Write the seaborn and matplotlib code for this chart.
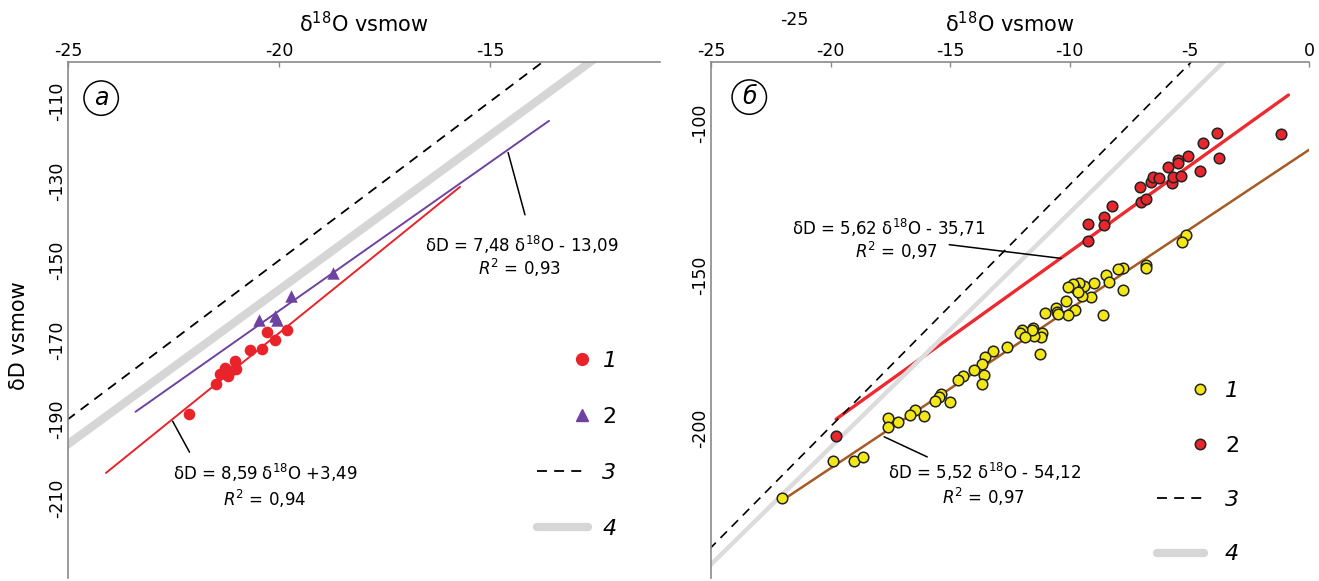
import numpy as np
import pandas as pd
import seaborn as sns
import matplotlib.pyplot as plt
from matplotlib.lines import Line2D
from matplotlib.legend_handler import HandlerLine2D

# ---- panel a: samples ----
a1_o18 = [-22.13, -21.50, -21.40, -21.28, -21.20, -21.16, -21.04, -21.02,
          -20.69, -20.41, -20.28, -20.09, -19.82]
a1_dD = [-188.6, -181.1, -178.6, -177.1, -179.2, -177.9, -175.4, -177.3,
         -172.6, -172.3, -168.0, -170.1, -167.6]
a2_o18 = [-20.47, -20.09, -20.05, -19.72, -18.71]
a2_dD = [-164.9, -164.1, -165.1, -159.0, -153.2]

# regression lines panel a: slope, intercept, x range
a_fit_slope = [8.59, 7.48]
a_fit_icpt = [3.49, -13.09]
a_fit_xmin = [-24.1, -23.4]
a_fit_xmax = [-15.71, -13.6]
a_gmwl = (8.0, 10.0)
a_lmwl = (7.78, -1.8)

# ---- panel b: samples ----
b1_o18 = [-5.15, -5.30, -6.80, -6.80, -7.79, -7.97, -7.79, -8.50, -8.35, -9.00,
          -8.60, -9.11, -9.41, -9.50, -9.62, -9.78, -9.85, -10.09, -9.64, -10.16,
          -9.78, -10.09, -10.59, -10.55, -10.48, -11.04, -11.17, -11.20, -11.50, -11.53,
          -11.59, -12.01, -12.08, -11.87, -11.25, -12.64, -13.20, -13.55, -13.68, -14.00,
          -13.57, -13.68, -14.48, -14.69, -15.40, -15.48, -15.64, -15.01, -16.10, -16.47,
          -16.68, -17.17, -17.59, -17.59, -19.89, -19.01, -18.63, -22.04]
b1_dD = [-136.7, -138.9, -146.6, -147.6, -147.4, -148.0, -154.8, -149.8, -152.0, -152.6,
         -162.9, -157.1, -153.4, -156.7, -152.6, -154.2, -152.8, -153.7, -155.3, -158.3,
         -161.3, -163.0, -160.8, -161.9, -162.6, -162.4, -169.0, -170.3, -169.8, -167.3,
         -167.9, -167.9, -169.0, -170.1, -175.7, -173.3, -174.7, -176.6, -179.0, -181.0,
         -182.6, -185.6, -183.0, -184.3, -188.9, -189.7, -191.1, -191.4, -196.1, -194.1,
         -195.7, -197.9, -196.8, -199.6, -210.7, -210.7, -209.6, -223.0]
b2_o18 = [-19.77, -9.25, -9.23, -8.57, -8.56, -8.24, -7.07, -7.04, -6.83, -6.62,
          -6.53, -6.26, -5.88, -5.74, -5.67, -5.46, -5.46, -5.36, -5.05, -4.56,
          -4.42, -3.83, -3.76, -1.18]
b2_dD = [-202.6, -138.6, -133.1, -130.9, -133.4, -127.1, -120.9, -125.8, -125.0, -119.2,
         -117.6, -118.1, -114.5, -119.8, -117.8, -112.1, -113.2, -117.3, -110.8, -115.7,
         -106.5, -103.2, -111.6, -103.6]

b_fit_slope = [5.22, 5.62]
b_fit_icpt = [-108.8, -86.0]
b_fit_xmin = [-22.0, -19.77]
b_fit_xmax = [0.0, -0.86]
b_gmwl = (7.93, -40.95)
b_lmwl = (7.69, -52.5)

a_eq = ['δD = 8,59 δ$^{18}$O +3,49', 'δD = 7,48 δ$^{18}$O - 13,09']
a_r2 = ['$R^{2}$ = 0,94', '$R^{2}$ = 0,93']
b_eq = ['δD = 5,52 δ$^{18}$O - 54,12', 'δD = 5,62 δ$^{18}$O - 35,71']
b_r2 = ['$R^{2}$ = 0,97', '$R^{2}$ = 0,97']
legend_labels = ['1', '2', '3', '4']

sns.set_theme(style='white')
plt.rcParams['font.family'] = ['DejaVu Sans']
plt.rcParams['mathtext.fontset'] = 'dejavusans'
plt.rcParams['axes.unicode_minus'] = False
plt.rcParams['text.color'] = 'black'
plt.rcParams['axes.labelcolor'] = 'black'

RED_A = '#e8232a'
PURPLE = '#6e42a0'
GRAY = '#d6d6d6'
RED_B = '#e8262d'
YELLOW = '#f3e816'
BROWN = '#a65a24'
DASH = (0, (5.5, 4))

fig = plt.figure(figsize=(13.19, 5.81), dpi=100)
ax_a = fig.add_axes([68 / 1319, 3 / 581, 592 / 1319, 516 / 581])
ax_b = fig.add_axes([711 / 1319, 3 / 581, 598 / 1319, 516 / 581])


def ref_line(ax, slope, icpt, x0, x1, **kw):
    xs = np.array([x0, x1])
    ax.plot(xs, slope * xs + icpt, **kw)


# ---- panel a ----
ax = ax_a
ref_line(ax, *a_lmwl, -26, -10, color=GRAY, lw=6, solid_capstyle='butt', zorder=1)
ref_line(ax, *a_gmwl, -26, -10, color='black', lw=1.3, ls=DASH, zorder=1.5)
for k, col in enumerate([RED_A, PURPLE]):
    xs = np.array([a_fit_xmin[k], a_fit_xmax[k]])
    sns.lineplot(x=xs, y=a_fit_slope[k] * xs + a_fit_icpt[k], ax=ax, color=col,
                 lw=1.4, legend=False, zorder=2)
sns.scatterplot(x=a1_o18, y=a1_dD, ax=ax, color=RED_A, s=70, edgecolor=RED_A,
                linewidth=0, legend=False, zorder=3)
sns.scatterplot(x=a2_o18, y=a2_dD, ax=ax, color=PURPLE, marker='^', s=80,
                edgecolor=PURPLE, linewidth=0, legend=False, zorder=3)
ax.set_xlim(-25, -10.97)
ax.set_ylim(-230, -100)
ax.set_xticks([-25, -20, -15])
ax.set_yticks([-110, -130, -150, -170, -190, -210])

ax.text(-20.33, -203.5, a_eq[0], ha='center', va='center', fontsize=12)
ax.text(-20.35, -210.0, a_r2[0], ha='center', va='center', fontsize=12)
ax.text(-14.24, -146.0, a_eq[1], ha='center', va='center', fontsize=12)
ax.text(-14.29, -151.8, a_r2[1], ha='center', va='center', fontsize=12)
ax.plot([-22.52, -22.12], [-190.5, -198.3], color='black', lw=1.1)
ax.plot([-14.57, -14.17], [-122.8, -138.5], color='black', lw=1.1)
ax.text(0.056, 0.930, 'a', transform=ax.transAxes, ha='center', va='center',
        fontsize=17, style='italic',
        bbox=dict(boxstyle='circle,pad=0.22', fc='white', ec='black', lw=1.1))
ax.set_ylabel('δD vsmow', fontsize=15)
ax.yaxis.set_label_coords(-0.066, 0.47)

ha = [Line2D([], [], ls='none', marker='o', ms=8.5, mfc=RED_A, mec=RED_A),
      Line2D([], [], ls='none', marker='^', ms=9, mfc=PURPLE, mec=PURPLE),
      Line2D([], [], color='black', lw=1.3, ls=DASH),
      Line2D([], [], color=GRAY, lw=6, solid_capstyle='round')]
leg = ax.legend(ha, legend_labels, loc='center left', bbox_to_anchor=(0.792, 0.258),
                frameon=False, fontsize=16, handlelength=2.3, labelspacing=1.62,
                handletextpad=0.65, borderpad=0, borderaxespad=0,
                handler_map={ha[0]: HandlerLine2D(xpad=1.8), ha[1]: HandlerLine2D(xpad=1.8)})
for t, it in zip(leg.get_texts(), [True, False, True, True]):
    t.set_style('italic' if it else 'normal')

# ---- panel b ----
ax = ax_b
ref_line(ax, *b_lmwl, -26, 1, color='#dcdcdc', lw=3.2, solid_capstyle='butt', zorder=2.2)
ref_line(ax, *b_gmwl, -26, 1, color='black', lw=1.2, ls=DASH, zorder=2.3)
for k, col in enumerate([BROWN, '#ee2a30']):
    xs = np.array([b_fit_xmin[k], b_fit_xmax[k]])
    sns.lineplot(x=xs, y=b_fit_slope[k] * xs + b_fit_icpt[k], ax=ax, color=col,
                 lw=1.8 if k == 0 else 2.4, legend=False, zorder=2)
sns.scatterplot(x=b1_o18, y=b1_dD, ax=ax, color=YELLOW, s=58, edgecolor='#222222',
                linewidth=1.1, legend=False, zorder=3)
sns.scatterplot(x=b2_o18, y=b2_dD, ax=ax, color=RED_B, s=58, edgecolor='#222222',
                linewidth=1.1, legend=False, zorder=3)
ax.set_xlim(-25, 0)
ax.set_ylim(-249.2, -80)
ax.set_xticks([-25, -20, -15, -10, -5, 0])
ax.set_yticks([-100, -150, -200])

ax.text(-17.56, -134.4, b_eq[1], ha='center', va='center', fontsize=12)
ax.text(-17.27, -142.0, b_r2[1], ha='center', va='center', fontsize=12)
ax.text(-13.55, -214.4, b_eq[0], ha='center', va='center', fontsize=12)
ax.text(-13.63, -222.6, b_r2[0], ha='center', va='center', fontsize=12)
ax.plot([-15.04, -10.36], [-139.9, -144.4], color='black', lw=1.1, zorder=4)
ax.plot([-17.76, -15.96], [-202.9, -209.5], color='black', lw=1.1, zorder=4)
ax.text(0.064, 0.932, 'б', transform=ax.transAxes, ha='center', va='center',
        fontsize=17, style='italic',
        bbox=dict(boxstyle='circle,pad=0.22', fc='white', ec='black', lw=1.1))

hb = [Line2D([], [], ls='none', marker='o', ms=7.5, mfc=YELLOW, mec='#222222', mew=1.1),
      Line2D([], [], ls='none', marker='o', ms=7.5, mfc=RED_B, mec='#222222', mew=1.1),
      Line2D([], [], color='black', lw=1.3, ls=DASH),
      Line2D([], [], color=GRAY, lw=6, solid_capstyle='round')]
leg = ax.legend(hb, legend_labels, loc='center left', bbox_to_anchor=(0.746, 0.204),
                frameon=False, fontsize=16, handlelength=2.1, labelspacing=1.55,
                handletextpad=0.95, borderpad=0, borderaxespad=0,
                handler_map={hb[0]: HandlerLine2D(xpad=1.8), hb[1]: HandlerLine2D(xpad=1.8)})
for t, it in zip(leg.get_texts(), [True, False, True, True]):
    t.set_style('italic' if it else 'normal')

fig.text(794 / 1319, 1 - 20 / 581, '-25', ha='center', va='center', fontsize=12.5)

for ax in (ax_a, ax_b):
    ax.xaxis.tick_top()
    ax.xaxis.set_label_position('top')
    ax.set_xlabel('δ$^{18}$O vsmow', fontsize=15, labelpad=7)
    for s in ('bottom', 'right'):
        ax.spines[s].set_visible(False)
    for s in ('top', 'left'):
        ax.spines[s].set_color('#8a8a8a')
        ax.spines[s].set_linewidth(1.2)
    ax.tick_params(direction='in', length=3.5, width=1, color='#8a8a8a',
                   labelcolor='black', labelsize=12.5, pad=1.5)
    ax.tick_params(axis='y', labelrotation=90)
    for lab in ax.get_yticklabels():
        lab.set_va('center')
    ax.grid(False)

fig.savefig('out.png', dpi=100)
